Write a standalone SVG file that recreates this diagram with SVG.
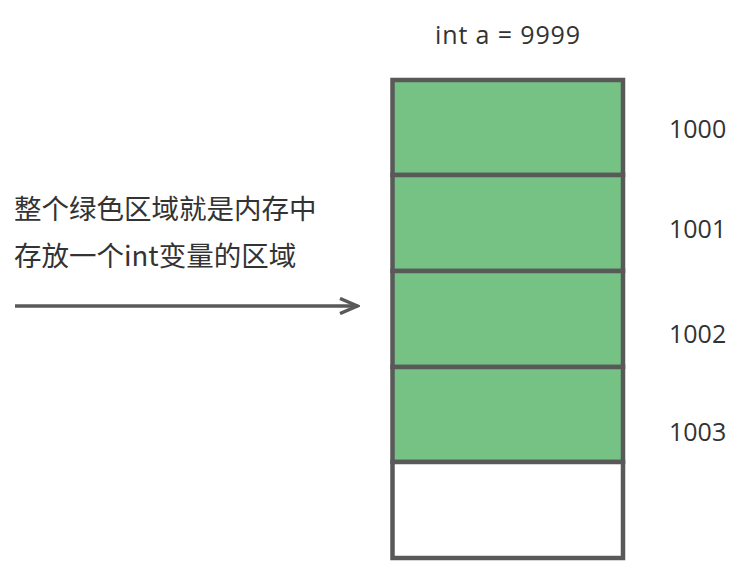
<svg xmlns="http://www.w3.org/2000/svg" width="743" height="564" viewBox="0 0 743 564">
<style>
.cell{stroke:#595959;stroke-width:4.5}
.g{fill:#76c285}
.w{fill:#ffffff}
.t{font-family:"Open Sans","Noto Sans","Noto Sans CJK SC",sans-serif;font-size:25px;fill:#333333}
.cn{font-family:"Noto Sans CJK SC","Noto Sans",sans-serif;font-size:27.5px;fill:#333333}
.conn{stroke:#595959;stroke-width:3.5;fill:none}
</style>
<defs>
<marker id="arr" viewBox="0 0 22 18" refX="20" refY="9" markerWidth="22" markerHeight="18" markerUnits="userSpaceOnUse" orient="auto">
<path d="M2,1.5 L19.5,9 L2,16.5" fill="none" stroke="#595959" stroke-width="3.5"/>
</marker>
</defs>
<rect width="743" height="564" fill="#ffffff"/>
<text class="t" x="435" y="44" textLength="145">int a = 9999</text>
<g id="cell1000"><rect class="cell g" x="392.5" y="80" width="230.5" height="95"/></g>
<g id="cell1001"><rect class="cell g" x="392.5" y="175" width="230.5" height="96"/></g>
<g id="cell1002"><rect class="cell g" x="392.5" y="271" width="230.5" height="96"/></g>
<g id="cell1003"><rect class="cell g" x="392.5" y="367" width="230.5" height="95"/></g>
<g id="cell1004"><rect class="cell w" x="392.5" y="462" width="230.5" height="96"/></g>
<text class="t" x="669" y="138">1000</text>
<text class="t" x="669" y="238">1001</text>
<text class="t" x="669" y="343">1002</text>
<text class="t" x="669" y="441">1003</text>
<g id="label">
<text class="cn" x="14" y="219">整个绿色区域就是内存中</text>
<text class="cn" x="14" y="266">存放一个int变量的区域</text>
</g>
<g id="connectors">
<line class="conn" x1="15" y1="306" x2="358" y2="306" marker-end="url(#arr)"/>
</g>
</svg>
